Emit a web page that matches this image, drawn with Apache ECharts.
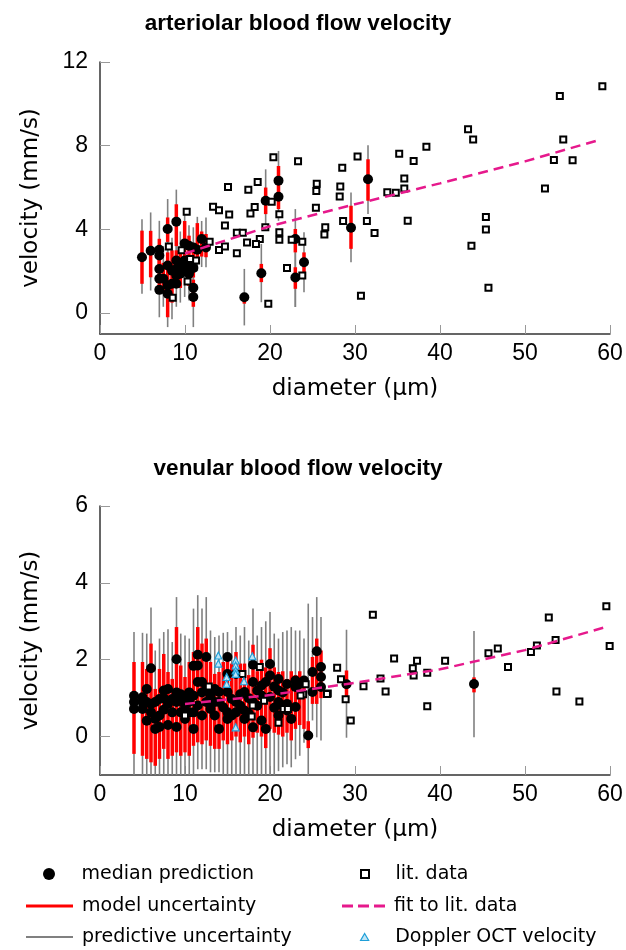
<!DOCTYPE html>
<html><head><meta charset="utf-8">
<script src="https://cdn.jsdelivr.net/npm/echarts@6/dist/echarts.min.js"></script>
<style>html,body{margin:0;padding:0;background:#fff}#c{width:626px;height:950px}</style>
</head><body><div id="c"></div>
<script>
// ---------- arteriolar (top) ----------
const artBarDiam = [4.94,5.96,6.98,6.98,7.45,7.96,7.96,8.47,8.98,8.98,9.45,9.96,10.47,10.98,10.98,11.45,11.96,12.47,16.98,18.98,19.49,21.0,22.98,22.98,24.0,29.53,31.53];
const artModelLo = [1.4,1.71,2.3,1.1,1.0,3.4,-0.2,0.5,3.2,1.2,1.2,2.2,1.3,1.7,0.3,2.5,2.7,2.67,0.45,1.48,4.73,4.97,2.9,1.16,1.8,3.07,5.37];
const artModelHi = [3.94,3.93,3.55,2.6,2.4,4.57,2.9,3.0,5.2,3.0,3.1,4.4,3.7,3.3,1.6,4.3,3.9,3.78,0.92,2.35,6.0,7.03,4.02,2.19,2.9,5.13,7.35];
const artPredLo  = [0.92,1.08,1.6,-0.2,0.3,2.8,-0.67,-0.3,2.4,0.3,0.5,0.77,0.6,0.8,-0.67,2.0,2.2,2.19,-0.59,0.52,4.26,4.41,0.29,0.29,1.0,2.43,4.73];
const artPredHi  = [4.49,4.81,4.41,3.3,3.2,5.45,3.6,3.6,5.9,3.7,3.9,4.81,4.2,4.1,2.4,4.6,4.4,4.57,2.11,3.3,6.87,7.75,4.97,2.9,3.86,5.76,8.02];

const artDiam = [4.94,5.96,6.98,6.98,6.98,6.98,6.98,7.45,7.96,7.96,7.96,7.96,8.47,8.47,8.98,8.98,8.98,8.98,8.98,9.45,9.45,9.96,9.96,9.96,10.47,10.47,10.47,10.98,10.98,10.98,10.98,11.45,11.96,12.47,16.98,18.98,19.49,21.0,21.0,22.98,22.98,24.0,29.53,31.53];
const artMedian = [2.67,2.98,3.03,2.75,2.11,1.64,1.11,1.64,4.02,2.27,1.32,0.92,2.03,1.4,4.37,2.51,2.11,1.8,1.4,2.27,1.88,3.33,2.51,2.0,3.22,2.27,1.88,3.14,2.16,1.21,0.77,3.03,3.54,3.14,0.76,1.9,5.37,6.33,5.56,3.54,1.7,2.43,4.08,6.4];

const artLitDiam = [20.4,23.3,30.3,18.55,15.06,17.45,28.5,25.5,25.45,28.27,
  28.2,25.4,28.6,26.5,26.4,13.3,14.0,15.2,18.2,17.7,
  10.2,14.7,20.2,21.1,19.45,21.1,21.1,16.1,16.8,18.8,
  17.3,18.35,22.55,23.8,22.0,23.8,12.9,14.0,14.7,16.1,
  19.8,11.3,10.5,10.3,8.55,8.1,9.6,10.6,
  59.1,54.1,43.3,43.9,38.4,35.2,36.9,54.5,53.4,55.6,
  52.35,35.8,35.8,33.8,34.8,36.2,31.4,32.3,45.4,45.4,
  43.7,45.7,30.7];
const artLitVel = [7.45,7.26,7.48,6.27,6.03,5.9,6.95,6.18,5.83,6.05,
  5.57,5.03,4.4,4.1,3.75,5.08,4.92,4.71,5.07,4.76,
  4.84,4.18,5.32,4.72,4.1,3.86,3.5,3.84,3.84,3.54,
  3.37,3.3,3.51,3.41,2.16,1.8,3.41,3.02,3.18,2.86,
  0.45,2.51,2.54,1.51,0.73,3.18,3.0,2.59,
  10.84,10.37,8.78,8.3,7.95,7.62,7.27,8.29,7.32,7.3,
  5.95,6.43,5.95,5.78,5.75,4.41,4.4,3.83,4.59,3.99,
  3.22,1.21,0.83];

const artFitDiam = [10,20,30,40,50,58.6];
const artFitVel  = [2.85,4.15,5.2,6.2,7.25,8.26];

// ---------- venular (bottom) ----------
const venBarDiam = [4,5,5.5,6,6.5,7,7.5,8,8.5,9, 9.5,10,10.5,11,11.5,12,12.5,13,13.5,14, 14.5,15,15.5,16,16.5,17,17.5,18,18.5,19, 19.5,20,20.5,21,21.5,22,22.5,23,23.5,24, 24.5,25,25.5,26,29,44];
const venModelLo = [-0.45,-0.5,-0.58,-0.67,-0.76,-0.58,-0.32,-0.58,-0.5,-0.41, -0.5,-0.41,-0.5,-0.24,-0.15,-0.2,-0.1,-0.24,-0.32,-0.32, -0.1,-0.2,-0.1,0.0,-0.15,0.0,-0.2,-0.03,0.1,0.0, -0.3,0.2,0.1,0.05,0.0,0.1,-0.1,0.2,0.3,0.2, -0.3,0.85,0.85,1.0,1.0,1.15];
const venModelHi = [1.94,1.94,1.76,2.42,1.24,1.76,2.15,1.68,1.5,2.85, 1.85,1.55,1.94,2.2,2.85,2.42,2.55,1.94,1.63,1.68, 1.94,2.11,1.9,2.2,1.9,1.9,1.6,2.39,1.7,2.0, 1.8,2.3,1.8,1.68,1.7,1.5,1.7,1.6,1.7,1.5, 0.4,2.07,2.55,2.24,1.72,1.54];
const venPredLo  = [-1,-1,-1,-1,-1,-1,-1,-1,-1,-1, -1,-1,-1,-1,-0.85,-0.85,-0.85,-0.93,-0.93,-0.93, -1,-1,-1,-1,-1,-1,-1,-1,-1,-1, -1,-1,-1,-0.9,-0.8,-0.72,-0.8,-0.59,-0.5,-0.16, -1,0.42,-0.02,-0.1,-0.03,-0.02];
const venPredHi  = [2.72,2.7,2.68,3.36,2.24,2.55,2.72,2.79,2.46,3.63, 2.68,2.63,2.55,3.33,3.68,3.33,3.63,2.76,2.59,2.63, 2.7,2.72,2.5,2.85,2.63,2.85,2.5,3.33,2.63,2.85, 3.0,3.24,2.68,2.55,2.72,2.76,2.85,2.76,2.76,2.55, 3.46,3.11,3.63,3.11,2.78,2.75];

const venDiam = [4,4,4, 5,5,5, 5.5,5.5,5.5, 6,6,6, 6.5,6.5,6.5, 7,7,7, 7.5,7.5,7.5, 8,8,8, 8.5,8.5,
  9,9,9,9, 9.5,9.5,9.5, 10,10,10, 10.5,10.5,10.5, 11,11,11,11, 11.5,11.5,11.5,11.5,
  12,12,12, 12.5,12.5,12.5, 13,13, 13.5,13.5,13.5, 14,14,14, 14.5,
  15,15,15,15,15, 15.5,15.5, 16,16,16, 16.5,16.5, 17,17,17, 17.5,17.5,
  18,18,18,18, 18.5,18.5, 19,19,19, 19.5,19.5, 20,20,20, 20.5,20.5,
  21,21,21,21, 21.5,21.5, 22,22,22, 22.5, 23,23,23, 23.5, 24, 24.5,
  25,25, 25.5, 26,26,26, 29, 44];
const venMedian = [1.06,0.9,0.72, 1.02,0.9,0.72, 1.24,0.9,0.41, 1.78,0.85,0.63, 0.9,0.46,0.2, 0.98,0.55,0.25, 1.2,1.0,0.7, 1.24,0.85,0.3, 0.98,0.63,
  2.01,1.15,0.9,0.25, 1.1,0.98,0.63, 1.06,0.81,0.46, 1.15,0.9,0.63, 1.84,1.06,0.63,0.2, 2.13,1.85,1.42,0.81,
  1.42,1.15,0.55, 2.07,1.24,0.9, 1.06,0.72, 1.24,0.9,0.55, 1.16,0.9,0.2, 0.76,
  2.07,1.63,1.16,0.63,0.46, 0.98,0.55, 1.63,0.9,0.63, 1.1,0.8, 1.16,0.68,0.46, 1.0,0.6,
  1.87,1.42,0.9,0.24, 1.2,0.8, 1.33,1.07,0.42, 1.42,0.2, 1.89,1.59,1.03, 1.3,0.75,
  1.5,1.2,0.9,0.55, 1.15,0.8, 1.37,0.85,0.68, 0.46, 1.46,1.29,0.77, 1.37, 1.46, 0.03,
  1.68,1.16, 2.22, 1.81,1.55,1.29, 1.36, 1.37];

const venLitDiam = [60.08,59.57,59.96,52.8,53.6,51.4,50.7,48.0,46.8,45.7, 53.7,56.4,40.6,38.5,38.5,37.3,36.8,36.9,34.6,33.0, 33.6,32.1,31.0,27.9,28.35,28.9,29.5,26.8,24.2,23.9, 21.0,21.6,22.1,19.3,18.8,16.75,17.96,17.85,23.6,26.7, 12.8,10.0];
const venLitVel  = [4.63,3.39,2.36,3.10,2.51,2.37,2.2,1.81,2.29,2.17, 1.17,0.91,1.97,1.66,0.79,1.97,1.78,1.59,2.03,1.51, 1.17,3.17,1.31,1.79,1.49,0.97,0.42,1.12,1.36,1.1, 0.36,0.72,0.72,0.93,1.81,1.63,0.81,0.52,1.07,1.11, 1.3,0.55];

const venFitDiam = [10,20,30,40,50,59.2];
const venFitVel  = [0.85,1.08,1.4,1.75,2.25,2.83];

const dopDiam = [13.92,13.92,14.9,14.9,15.96,15.96,15.96,15.96,15.96,16.94,17.92];
const dopVel  = [2.11,1.9,1.55,1.37,1.98,1.85,1.72,1.63,0.24,1.44,2.09];

// ---------- axis ticks ----------
const xTickStep = 10;
const artYTicks = [0,4,8,12];
const venYTicks = [0,2,4,6];

// ---------- helpers ----------
const RED = '#ff0000', GREY = '#808080', PINK = '#e6198c', BLUE = '#1f9fd8';
const pairs = (a,b) => a.map((v,i)=>[v,b[i]]);
const triples = (a,b,c) => a.map((v,i)=>[v,b[i],c[i]]);

function barSeries(name, gi, data, color, width, z){
  return {
    type:'custom', name, xAxisIndex:gi, yAxisIndex:gi, z, silent:true,
    itemStyle:{color},
    encode:{x:0, y:[1,2]},
    renderItem(params, api){
      const x = api.value(0);
      const a = api.coord([x, api.value(1)]);
      const b = api.coord([x, api.value(2)]);
      return {type:'line', shape:{x1:a[0],y1:a[1],x2:b[0],y2:b[1]}, style:{stroke:color, lineWidth:width}};
    },
    data
  };
}
function seriesFor(gi, bd, mlo, mhi, plo, phi, md, mv, ld, lv, fd, fv, redW){
  return [
    barSeries('predictive uncertainty', gi, triples(bd, plo, phi), GREY, 1.6, 2),
    barSeries('model uncertainty', gi, triples(bd, mlo, mhi), RED, redW, 3),
    {type:'scatter', name:'median prediction', xAxisIndex:gi, yAxisIndex:gi, z:4, symbol:'circle', symbolSize:10,
     itemStyle:{color:'#000', opacity:1}, data:pairs(md, mv)},
    {type:'scatter', name:'lit. data', xAxisIndex:gi, yAxisIndex:gi, z:5, symbol:'rect', symbolSize:6,
     itemStyle:{color:'#fff', borderColor:'#000', borderWidth:2, opacity:1}, data:pairs(ld, lv)},
    {type:'line', name:'fit to lit. data', xAxisIndex:gi, yAxisIndex:gi, z:6, showSymbol:false, symbol:'none',
     lineStyle:{color:PINK, width:2.5, type:[10,6]}, itemStyle:{color:PINK}, data:pairs(fd, fv)}
  ];
}

const tickFont = {fontFamily:'Liberation Sans', fontSize:23, color:'#000'};
const nameFont = {fontFamily:'DejaVu Sans', fontSize:23, color:'#000'};
function xAx(gi){
  return {type:'value', gridIndex:gi, min:0, max:60, interval:xTickStep,
    name:'diameter (µm)', nameLocation:'middle', nameGap:44, nameTextStyle:nameFont,
    axisLine:{show:true, onZero:false, lineStyle:{color:'#333', width:1.5}},
    axisTick:{show:true, inside:true, length:9, lineStyle:{color:'#999', width:1}},
    axisLabel:{...tickFont, margin:8}, splitLine:{show:false}};
}
function yAx(gi, max, ticks){
  return {type:'value', gridIndex:gi, min:-1, max,
    name:'velocity (mm/s)', nameLocation:'middle', nameGap:57, nameTextStyle:nameFont,
    axisLine:{show:true, onZero:false, lineStyle:{color:'#333', width:1.5}},
    axisTick:{show:true, inside:true, length:10, lineStyle:{color:'#999', width:1}, customValues:ticks},
    axisLabel:{...tickFont, margin:12, customValues:ticks}, splitLine:{show:false}};
}

const legText = {fontFamily:'DejaVu Sans', fontSize:19, color:'#000', padding:[0,0,0,4], lineHeight:22};
function leg(left, top, w, h, item){
  return {left, top, itemWidth:w, itemHeight:h, padding:0, selectedMode:false, textStyle:legText, data:[item]};
}

const option = {
  animation:false,
  backgroundColor:'#fff',
  title:[
    {text:'arteriolar blood flow velocity', left:293, top:7, textAlign:'center',
     textStyle:{fontFamily:'Liberation Sans', fontWeight:'bold', fontSize:22.5, color:'#000'}},
    {text:'venular blood flow velocity', left:293, top:452, textAlign:'center',
     textStyle:{fontFamily:'Liberation Sans', fontWeight:'bold', fontSize:22.5, color:'#000'}}
  ],
  grid:[
    {left:100, top:62, width:510, height:272},
    {left:100, top:506, width:510, height:269}
  ],
  xAxis:[xAx(0), xAx(1)],
  yAxis:[yAx(0, 12, artYTicks), yAx(1, 6, venYTicks)],
  legend:[
    leg(43, 863, 47, 12, {name:'median prediction', icon:'circle', itemStyle:{color:'#000', borderWidth:0, opacity:1}}),
    leg(26, 895, 47, 3, {name:'model uncertainty', icon:'rect', itemStyle:{color:RED, borderWidth:0}}),
    leg(26, 926, 47, 2, {name:'predictive uncertainty', icon:'rect', itemStyle:{color:GREY, borderWidth:0}}),
    leg(360, 863, 43, 8, {name:'lit. data', icon:'path://M0,0h10v10h-10z', itemStyle:{color:'#fff', borderColor:'#000', borderWidth:2, opacity:1}}),
    leg(342, 895, 43, 3, {name:'fit to lit. data', icon:'path://M0,0h11v3h-11zM16,0h11v3h-11zM32,0h11v3h-11z', itemStyle:{color:PINK, borderWidth:0}}),
    leg(360, 926, 43, 7, {name:'Doppler OCT velocity', icon:'path://M5,0L10,8.66L0,8.66Z', itemStyle:{color:'#bfe6f7', borderColor:BLUE, borderWidth:1.2, opacity:1}})
  ],
  series:[
    ...seriesFor(0, artBarDiam, artModelLo, artModelHi, artPredLo, artPredHi, artDiam, artMedian, artLitDiam, artLitVel, artFitDiam, artFitVel, 3.5),
    ...seriesFor(1, venBarDiam, venModelLo, venModelHi, venPredLo, venPredHi, venDiam, venMedian, venLitDiam, venLitVel, venFitDiam, venFitVel, 3.5),
    {type:'scatter', name:'Doppler OCT velocity', xAxisIndex:1, yAxisIndex:1, z:7, symbol:'triangle', symbolSize:7,
     itemStyle:{color:'#bfe6f7', borderColor:BLUE, borderWidth:1.2, opacity:1}, data:pairs(dopDiam, dopVel)}
  ]
};
const chart = echarts.init(document.getElementById('c'), null, {renderer:'canvas'});
chart.setOption(option);
</script></body></html>
